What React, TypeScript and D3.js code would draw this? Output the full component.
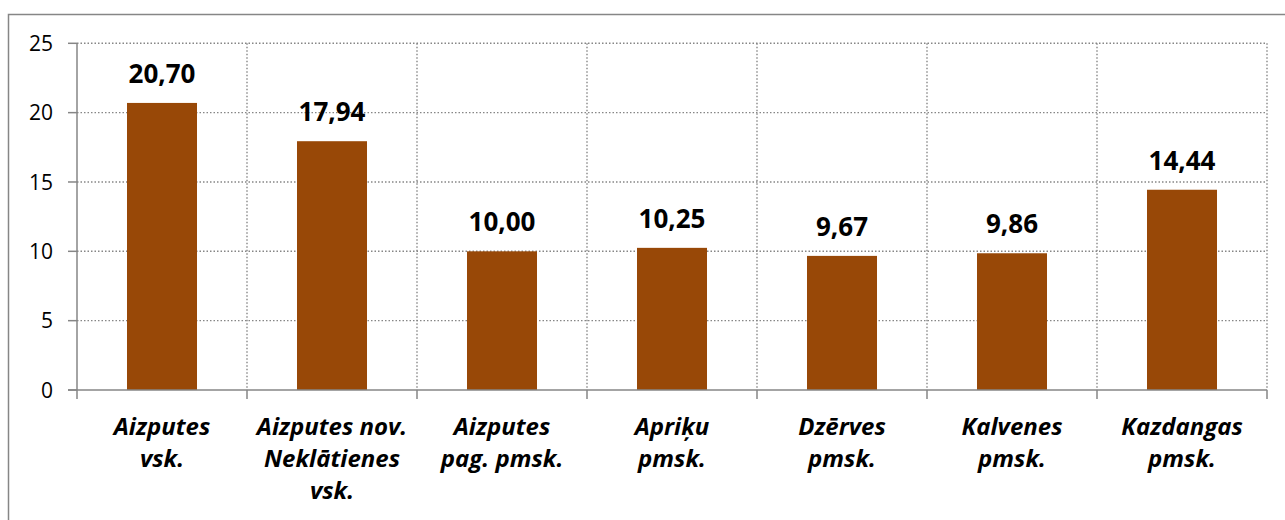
import React from "react";
import * as d3 from "d3";

const categories: string[][] = [
  ["Aizputes", "vsk."],
  ["Aizputes nov.", "Neklātienes", "vsk."],
  ["Aizputes", "pag. pmsk."],
  ["Apriķu", "pmsk."],
  ["Dzērves", "pmsk."],
  ["Kalvenes", "pmsk."],
  ["Kazdangas", "pmsk."],
];
const values: number[] = [20.7, 17.94, 10.0, 10.25, 9.67, 9.86, 14.44];
const yTicks: number[] = [0, 5, 10, 15, 20, 25];

const W = 1285;
const H = 520;
const left = 77;
const right = 1267;
const top = 43.3;
const bottom = 390;
const font = "'Open Sans', 'Noto Sans', sans-serif";
const gray = "#868686";
const barColor = "#984807";

export default function App() {
  const keys = categories.map((_, i) => String(i));
  const x = d3.scaleBand<string>().domain(keys).range([left, right]).paddingInner(0.5882).paddingOuter(0.2941);
  const xOuter = d3.scaleBand<string>().domain(keys).range([left, right]);
  const y = d3.scaleLinear().domain([0, 25]).range([bottom, top]);
  const fmt = (v: number) => v.toFixed(2).replace(".", ",");
  const bounds = d3.range(categories.length + 1).map((i) => left + i * xOuter.step());

  return (
    <svg width={W} height={H} style={{ position: "absolute", left: 0, top: 0, background: "#fff" }}>
      <rect x={8.5} y={14.5} width={W + 10} height={H + 10} fill="#fff" stroke={gray} strokeWidth={1.5} />
      {yTicks.filter((t) => t > 0).map((t) => (
        <line key={"g" + t} x1={left} x2={right} y1={y(t)} y2={y(t)} stroke={gray} strokeWidth={1.4} strokeDasharray="1.5 2" />
      ))}
      {bounds.slice(1).map((b, i) => (
        <line key={"v" + i} x1={b} x2={b} y1={top} y2={bottom} stroke={gray} strokeWidth={1.4} strokeDasharray="1.5 2" />
      ))}
      {values.map((v, i) => (
        <rect key={"b" + i} x={x(String(i))} y={y(v)} width={x.bandwidth()} height={y(0) - y(v)} fill={barColor} />
      ))}
      <line x1={left} x2={left} y1={top} y2={bottom} stroke={gray} strokeWidth={1.5} />
      <line x1={left - 9} x2={right} y1={bottom} y2={bottom} stroke={gray} strokeWidth={1.5} />
      {yTicks.map((t) => (
        <g key={"t" + t}>
          <line x1={left - 9} x2={left} y1={y(t)} y2={y(t)} stroke={gray} strokeWidth={1.5} />
          <text x={53} y={y(t)} dy="0.36em" textAnchor="end" fontFamily={font} fontSize={21} fill="#000">
            {t}
          </text>
        </g>
      ))}
      {bounds.map((b, i) => (
        <line key={"xt" + i} x1={b} x2={b} y1={bottom} y2={bottom + 9} stroke={gray} strokeWidth={1.5} />
      ))}
      {values.map((v, i) => (
        <text key={"l" + i} x={x(String(i))! + x.bandwidth() / 2} y={y(v) - 20} textAnchor="middle" fontFamily={font} fontWeight="bold" fontSize={26} fill="#000">
          {fmt(v)}
        </text>
      ))}
      {categories.map((lines, i) => (
        <text key={"c" + i} textAnchor="middle" fontFamily={font} fontWeight="bold" fontStyle="italic" fontSize={24} fill="#000">
          {lines.map((ln, j) => (
            <tspan key={j} x={xOuter(String(i))! + xOuter.bandwidth() / 2} y={435 + j * 32}>
              {ln}
            </tspan>
          ))}
        </text>
      ))}
    </svg>
  );
}
